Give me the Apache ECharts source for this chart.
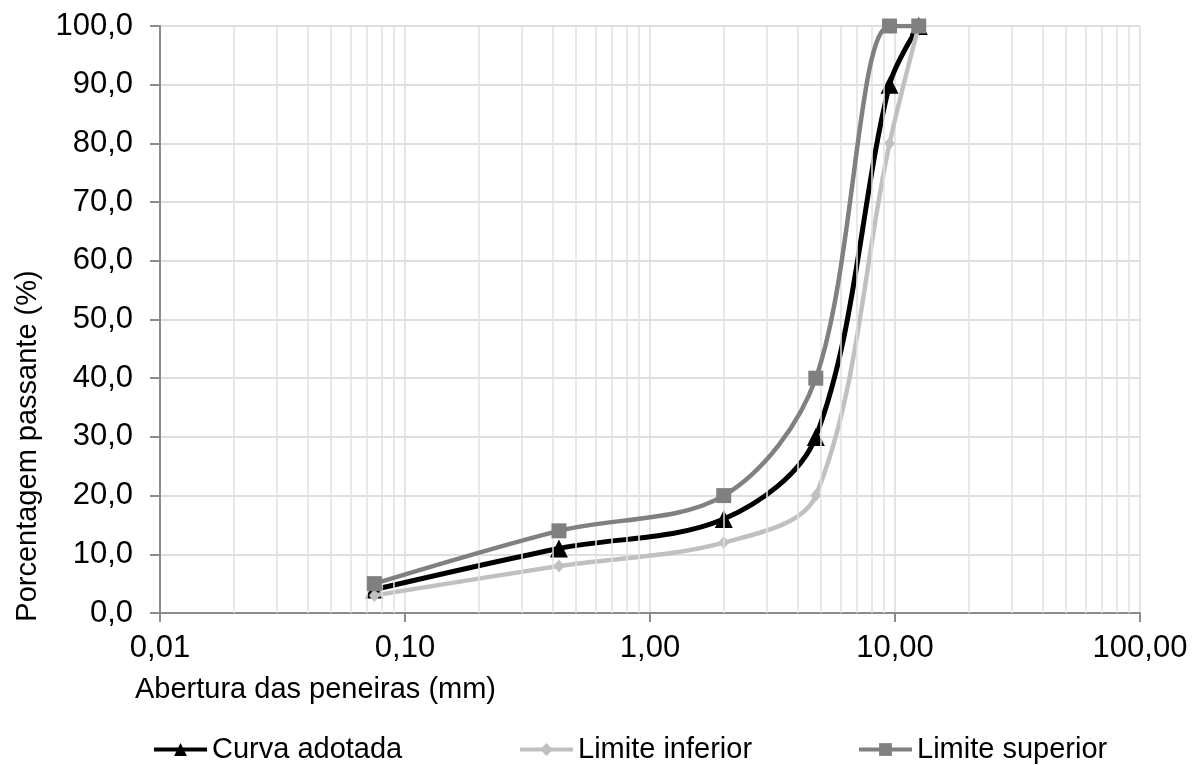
<!DOCTYPE html>
<html>
<head>
<meta charset="utf-8">
<script src="https://cdn.jsdelivr.net/npm/echarts@6/dist/echarts.min.js"></script>
<style>html,body{margin:0;padding:0;background:#fff}#c{width:1202px;height:765px}</style>
</head>
<body>
<div id="c"></div>
<script>
// Data
const sieves = [0.075, 0.425, 2.0, 4.75, 9.5, 12.5];
const curvaAdotada = [4, 11, 16, 30, 90, 100];
const limiteInferior = [3, 8, 12, 20, 80, 100];
const limiteSuperior = [5, 14, 20, 40, 100, 100];
const seriesNames = ['Curva adotada', 'Limite inferior', 'Limite superior'];
const xTitle = 'Abertura das peneiras (mm)';
const yTitle = 'Porcentagem passante (%)';
// minor log gridlines (2..9 in each decade)
const minorGrid = [];
[0.01, 0.1, 1, 10].forEach(d => { for (let k = 2; k <= 9; k++) minorGrid.push(+(d * k).toPrecision(3)); });

const FONT = '"Liberation Sans", Arial, sans-serif';
const pts = arr => sieves.map((x, i) => [x, arr[i]]);

const chart = echarts.init(document.getElementById('c'), null, {renderer: 'canvas'});
const legendBase = {
  top: 735, itemWidth: 53, itemHeight: 16, padding: 0,
  lineStyle: {width: 4},
  textStyle: {fontFamily: FONT, fontSize: 29, color: '#000'},
  selectedMode: false
};
const SM = 0.33;
chart.setOption({
  animation: false,
  grid: {left: 160, right: 62, top: 26, bottom: 152, containLabel: false},
  xAxis: {
    type: 'log', logBase: 10, min: 0.01, max: 100, splitNumber: 4,
    axisLine: {show: true, onZero: false, lineStyle: {color: '#8c8c8c', width: 2}},
    axisTick: {show: true, length: 9, lineStyle: {color: '#8c8c8c', width: 2}},
    axisLabel: {margin: 20, fontFamily: FONT, fontSize: 31, color: '#000',
      formatter: v => v.toFixed(2).replace('.', ',')},
    splitLine: {show: true, lineStyle: {color: '#dcdcdc', width: 1.5}},
    minorTick: {show: false}, minorSplitLine: {show: false}
  },
  yAxis: {
    type: 'value', min: 0, max: 100, interval: 10,
    axisLine: {show: true, lineStyle: {color: '#8c8c8c', width: 2}},
    axisTick: {show: true, length: 10, lineStyle: {color: '#8c8c8c', width: 2}},
    axisLabel: {margin: 27, fontFamily: FONT, fontSize: 31, color: '#000',
      formatter: v => v.toFixed(1).replace('.', ',')},
    splitLine: {show: true, lineStyle: {color: '#d4d4d4', width: 1.5}}
  },
  legend: [
    Object.assign({}, legendBase, {left: 152, data: [seriesNames[0]]}),
    Object.assign({}, legendBase, {left: 518, data: [seriesNames[1]]}),
    Object.assign({}, legendBase, {left: 857, data: [seriesNames[2]]})
  ],
  graphic: [
    {type: 'text', x: 135, y: 690, style: {text: xTitle, font: '29px ' + FONT, fill: '#000', textAlign: 'left', textVerticalAlign: 'middle'}},
    {type: 'text', x: 28, y: 446, rotation: Math.PI / 2, style: {text: yTitle, font: '29px ' + FONT, fill: '#000', textAlign: 'center', textVerticalAlign: 'middle'}}
  ],
  series: [
    {
      type: 'line', name: '_grid', data: [], z: 1, silent: true,
      markLine: {silent: true, symbol: ['none', 'none'], label: {show: false},
        lineStyle: {color: '#e0e0e0', width: 1.5, type: 'solid'},
        emphasis: {disabled: true},
        data: minorGrid.map(v => ({xAxis: v}))}
    },
    {
      type: 'line', name: seriesNames[0], data: pts(curvaAdotada), smooth: SM, z: 3,
      symbol: 'triangle', symbolSize: 18,
      lineStyle: {color: '#000', width: 5}, itemStyle: {color: '#000'}
    },
    {
      type: 'line', name: seriesNames[1], data: pts(limiteInferior), smooth: SM, z: 4,
      symbol: 'diamond', symbolSize: [11, 13],
      lineStyle: {color: '#c0c0c0', width: 4.5}, itemStyle: {color: '#c0c0c0'}
    },
    {
      type: 'line', name: seriesNames[2], data: pts(limiteSuperior), smooth: SM, z: 5,
      symbol: 'rect', symbolSize: 15,
      lineStyle: {color: '#808080', width: 4.5}, itemStyle: {color: '#808080'}
    }
  ]
});
</script>
</body>
</html>
